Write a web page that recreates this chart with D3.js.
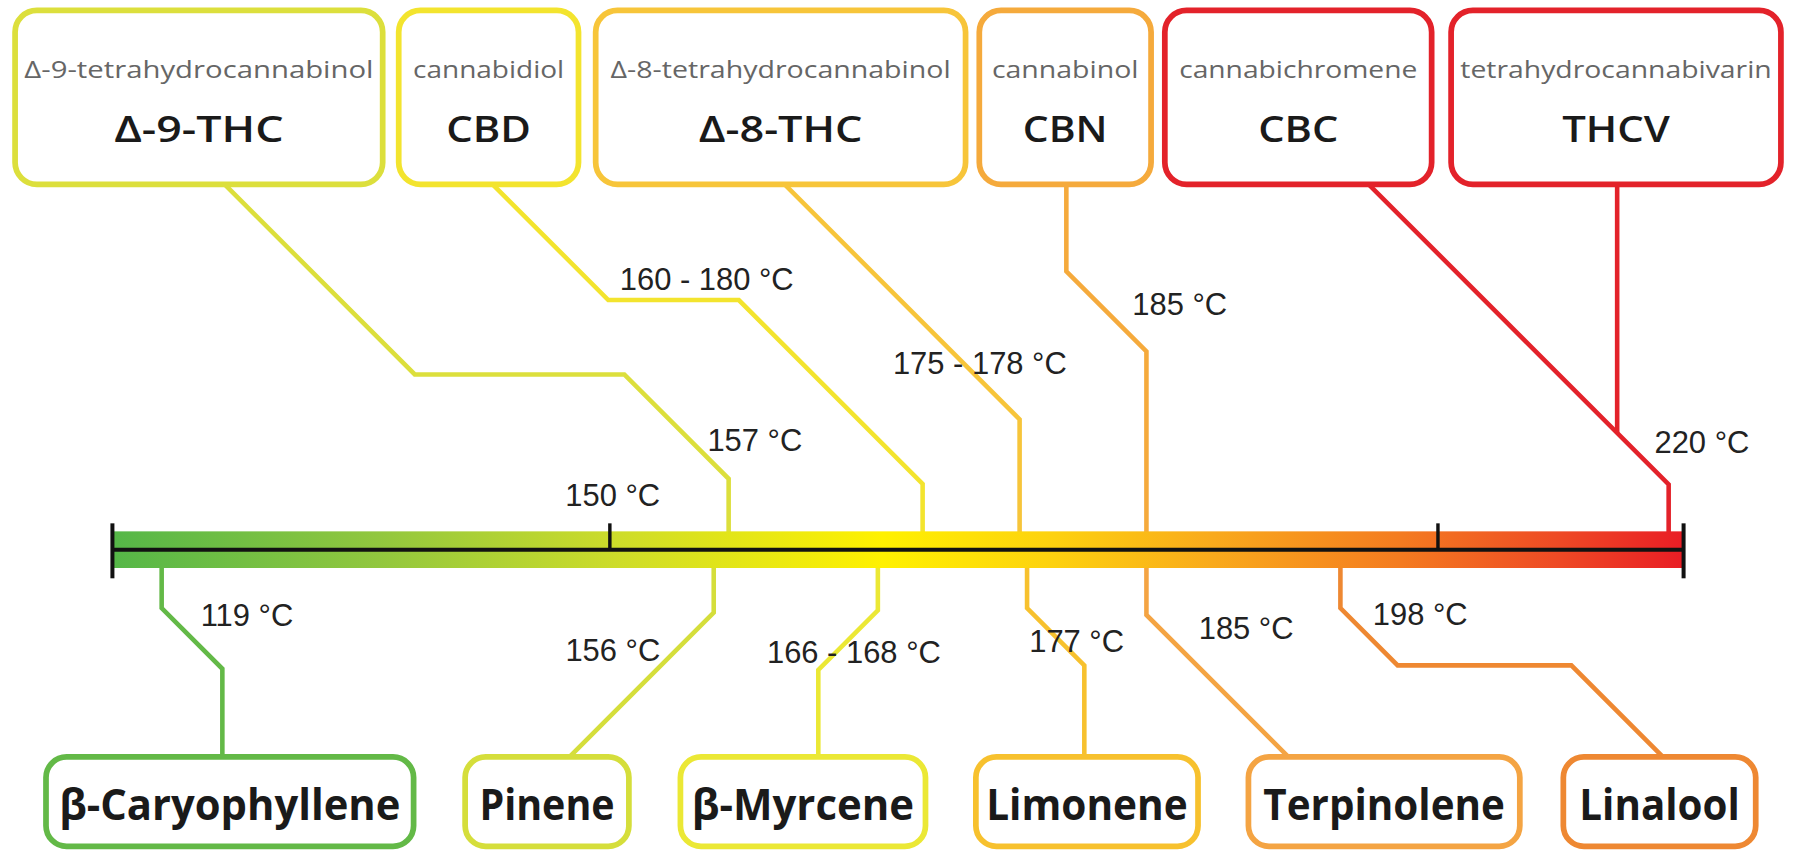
<!DOCTYPE html>
<html><head><meta charset="utf-8">
<script src="https://cdn.jsdelivr.net/npm/d3@7"></script>
<style>html,body{margin:0;padding:0;background:#fff;} svg{display:block;}</style>
</head><body><svg id="chart"></svg>
<script>
// ---------------- DATA ----------------
const cannabinoids = ["Δ-9-THC", "CBD", "Δ-8-THC", "CBN", "CBC", "THCV"];
const cannabinoidNames = ["Δ-9-tetrahydrocannabinol", "cannabidiol", "Δ-8-tetrahydrocannabinol", "cannabinol", "cannabichromene", "tetrahydrocannabivarin"];
const cannabinoidLow = [157, 160, 175, 185, 220, 220];
const cannabinoidHigh = [157, 180, 178, 185, 220, 220];
const terpenes = ["β-Caryophyllene", "Pinene", "β-Myrcene", "Limonene", "Terpinolene", "Linalool"];
const terpeneLow = [119, 156, 166, 177, 185, 198];
const terpeneHigh = [119, 156, 168, 177, 185, 198];
const axisDomain = [115.7, 221.0];
const tickValues = [149, 204.5];
const tickLabels = ["150 °C", ""];

// ---------------- LAYOUT / STYLE ----------------
const W = 1568, H = 744;
const AX = 480;               // axis line y
const bandTop = 464, bandBot = 496;
const topBoxes = [[13,334],[348,505],[520,843],[855,1005],[1017,1250],[1267,1555]];
const topY = [9,161];
const topColors = ["#dcdf3c","#f3e42e","#f7c53a","#f5aa3c","#e3222a","#e3222a"];
const topSubW = [305,132,297,128,208,272];
const topMainW = [148,74,143,74,70,94];
const topLabelPos = [[659,394],[617,253],[855.5,327],[1030,275],null,[1486,396]];
const topRoutes = [
  A => [[196,161],[362,327],[545,327],[A,327+A-545],[A,AX]],
  A => [[430,161],[531,262],[645,262],[A,262+A-645],[A,AX]],
  A => [[685,161],[A,161+A-685],[A,AX]],
  A => [[931,161],[931,237],[A,237+A-931],[A,AX]],
  A => [[1195,161],[A,161+A-1195],[A,AX]],
  A => [[1412,161],[1412,161+1412-1195]]
];
const botBoxes = [[40,361],[406,549],[594,808],[852,1046],[1090,1327],[1365,1533]];
const botY = [661,739];
const botColors = ["#63b947","#d5de3b","#ebe835","#f7c12e","#f4a443","#ee8832"];
const botW = [298,118,194,176,211,140];
const botLabelPos = [[215.5,547],[535,577],[745.5,579],[940,569],[1088,558],[1240,546]];
const botRoutes = [
  A => [[A,AX],[A,531],[A+53,584],[A+53,662]],
  A => [[A,AX],[A,535],[A-127,662]],
  A => [[A,AX],[A,533],[A-52,585],[A-52,662]],
  A => [[A,AX],[A,531],[A+50,581],[A+50,662]],
  A => [[A,AX],[A,537],[A+125,662]],
  A => [[A,AX],[A,531],[A+50,581],[1372,581],[1453,662]]
];

// ---------------- DRAW ----------------
const svg = d3.select("#chart")
  .attr("width", 1796).attr("height", 852)
  .attr("viewBox", `0 0 ${W} ${H}`);
svg.append("rect").attr("width", W).attr("height", H).attr("fill", "#fff");

const x = d3.scaleLinear().domain(axisDomain).range([98, 1470]);
const line = d3.line();
const fmt = (lo, hi) => lo === hi ? `${lo} °C` : `${lo} - ${hi} °C`;

const topData = cannabinoids.map((c, i) => ({
  code: c, name: cannabinoidNames[i], lo: cannabinoidLow[i], hi: cannabinoidHigh[i],
  box: topBoxes[i], color: topColors[i], subW: topSubW[i], mainW: topMainW[i],
  lab: topLabelPos[i], route: topRoutes[i]
}));
const botData = terpenes.map((t, i) => ({
  name: t, lo: terpeneLow[i], hi: terpeneHigh[i], box: botBoxes[i], color: botColors[i],
  w: botW[i], lab: botLabelPos[i], route: botRoutes[i]
}));

// leader lines
const gLines = svg.append("g").attr("fill", "none").attr("stroke-width", 4)
  .attr("stroke-linejoin", "miter");
gLines.selectAll("path.top").data(topData).join("path").attr("class", "top")
  .attr("stroke", d => d.color)
  .attr("d", d => line(d.route(x((d.lo + d.hi) / 2))));
gLines.selectAll("path.bot").data(botData).join("path").attr("class", "bot")
  .attr("stroke", d => d.color)
  .attr("d", d => line(d.route(x((d.lo + d.hi) / 2))));

// gradient band
const defs = svg.append("defs");
const grad = defs.append("linearGradient").attr("id", "band")
  .attr("gradientUnits", "userSpaceOnUse")
  .attr("x1", x.range()[0]).attr("x2", x.range()[1]).attr("y1", 0).attr("y2", 0);
[[0,"#55b748"],[0.17,"#92c73e"],[0.32,"#cddc2a"],[0.49,"#fff100"],[0.6,"#fdd10f"],
 [0.7,"#f9aa1c"],[0.82,"#f47b20"],[0.92,"#ee4a25"],[1,"#e91d25"]]
  .forEach(([o, c]) => grad.append("stop").attr("offset", o).attr("stop-color", c));
svg.append("rect").attr("x", x.range()[0]).attr("width", x.range()[1] - x.range()[0])
  .attr("y", bandTop).attr("height", bandBot - bandTop).attr("fill", "url(#band)");

// axis
const axisG = svg.append("g").attr("transform", `translate(0,${AX})`)
  .call(d3.axisTop(x).tickValues(tickValues).tickSize(23).tickSizeOuter(0).tickFormat(""));
axisG.select(".domain").remove();
axisG.selectAll(".tick line").attr("stroke", "#111").attr("stroke-width", 3);
svg.append("line").attr("x1", x.range()[0]).attr("x2", x.range()[1])
  .attr("y1", AX).attr("y2", AX).attr("stroke", "#111").attr("stroke-width", 3.5);
x.range().forEach(v => svg.append("line").attr("x1", v).attr("x2", v)
  .attr("y1", 457).attr("y2", 505).attr("stroke", "#111").attr("stroke-width", 3.5));
svg.selectAll("text.tick").data(tickValues.map((v, i) => ({v, l: tickLabels[i]})).filter(d => d.l))
  .join("text").attr("class", "tick")
  .attr("x", d => x(d.v) + 3).attr("y", 442).attr("text-anchor", "middle")
  .attr("font-family", "'Liberation Sans', Arial, sans-serif").attr("font-size", 27)
  .attr("fill", "#222").text(d => d.l);

// top boxes
const tb = svg.selectAll("g.tb").data(topData).join("g").attr("class", "tb");
tb.append("rect")
  .attr("x", d => d.box[0]).attr("y", topY[0])
  .attr("width", d => d.box[1] - d.box[0]).attr("height", topY[1] - topY[0])
  .attr("rx", 19).attr("fill", "#fff").attr("stroke", d => d.color).attr("stroke-width", 5);
tb.append("text")
  .attr("x", d => (d.box[0] + d.box[1]) / 2).attr("y", 68).attr("text-anchor", "middle")
  .attr("font-family", "'Open Sans', sans-serif").attr("font-size", 20).attr("fill", "#666")
  .attr("textLength", d => d.subW).attr("lengthAdjust", "spacingAndGlyphs")
  .text(d => d.name);
tb.append("text")
  .attr("x", d => (d.box[0] + d.box[1]) / 2).attr("y", 124).attr("text-anchor", "middle")
  .attr("font-family", "'Open Sans', sans-serif").attr("font-size", 32).attr("font-weight", 600)
  .attr("fill", "#1a1a1a")
  .attr("textLength", d => d.mainW).attr("lengthAdjust", "spacingAndGlyphs")
  .text(d => d.code);

// bottom boxes
const bb = svg.selectAll("g.bb").data(botData).join("g").attr("class", "bb");
bb.append("rect")
  .attr("x", d => d.box[0]).attr("y", botY[0])
  .attr("width", d => d.box[1] - d.box[0]).attr("height", botY[1] - botY[0])
  .attr("rx", 18).attr("fill", "#fff").attr("stroke", d => d.color).attr("stroke-width", 5);
bb.append("text")
  .attr("x", d => (d.box[0] + d.box[1]) / 2).attr("y", 716).attr("text-anchor", "middle")
  .attr("font-family", "'Open Sans', sans-serif").attr("font-size", 37).attr("font-weight", 700)
  .attr("fill", "#1a1a1a")
  .attr("textLength", d => d.w).attr("lengthAdjust", "spacingAndGlyphs")
  .text(d => d.name);

// temperature labels
const labels = topData.filter(d => d.lab).concat(botData);
svg.selectAll("text.temp").data(labels).join("text").attr("class", "temp")
  .attr("x", d => d.lab[0]).attr("y", d => d.lab[1]).attr("text-anchor", "middle")
  .attr("font-family", "'Liberation Sans', Arial, sans-serif").attr("font-size", 27)
  .attr("fill", "#222").text(d => fmt(d.lo, d.hi));
</script></body></html>
